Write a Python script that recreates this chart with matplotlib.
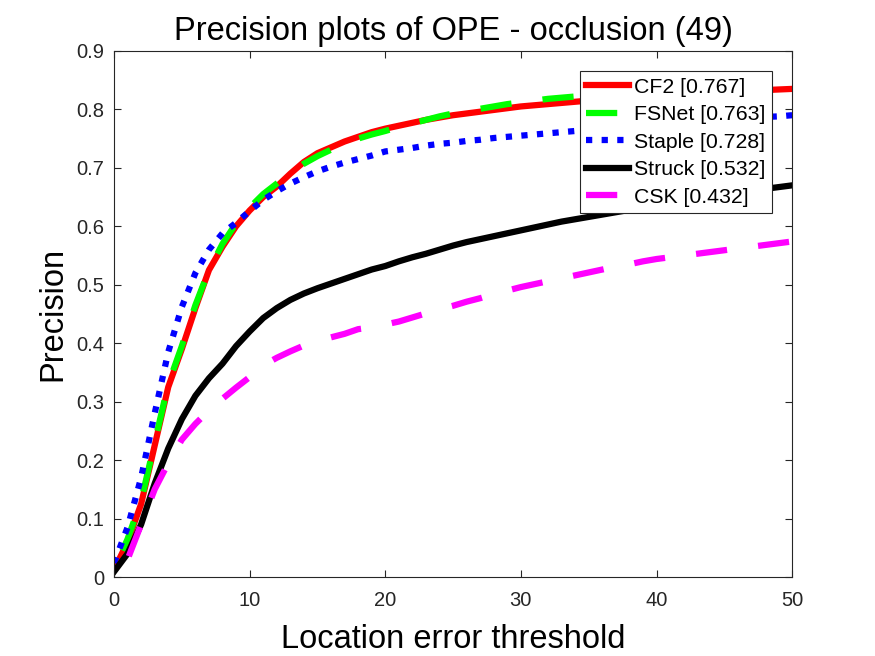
import numpy as np
import matplotlib
matplotlib.use('Agg')
import matplotlib.pyplot as plt

plt.rcParams['font.family'] = ['Liberation Sans', 'DejaVu Sans']

thresholds = np.arange(0, 51)

cf2 = [0.012, 0.06, 0.125, 0.225, 0.325, 0.39, 0.46, 0.525, 0.565, 0.6,
       0.627, 0.65, 0.668, 0.69, 0.71, 0.725, 0.735, 0.745, 0.753, 0.761,
       0.767, 0.772, 0.777, 0.782, 0.786, 0.79, 0.793, 0.796, 0.799, 0.802,
       0.805, 0.807, 0.809, 0.811, 0.813, 0.815, 0.817, 0.818, 0.82, 0.821,
       0.822, 0.824, 0.825, 0.826, 0.828, 0.829, 0.83, 0.831, 0.833, 0.834,
       0.835]
fsnet = [0.012, 0.065, 0.13, 0.23, 0.33, 0.395, 0.465, 0.525, 0.57, 0.605,
         0.632, 0.655, 0.673, 0.69, 0.707, 0.72, 0.731, 0.741, 0.75, 0.757,
         0.763, 0.77, 0.776, 0.782, 0.788, 0.793, 0.797, 0.801, 0.805, 0.809,
         0.812, 0.815, 0.818, 0.82, 0.822, 0.824, 0.825, 0.826, 0.827, 0.828,
         0.829, 0.83, 0.83, 0.831, 0.832, 0.832, 0.833, 0.834, 0.835, 0.835,
         0.836]
staple = [0.024, 0.085, 0.17, 0.28, 0.385, 0.462, 0.52, 0.56, 0.588, 0.606,
          0.626, 0.645, 0.66, 0.673, 0.684, 0.694, 0.702, 0.709, 0.715, 0.721,
          0.728, 0.731, 0.734, 0.738, 0.741, 0.743, 0.746, 0.748, 0.751, 0.753,
          0.755, 0.757, 0.759, 0.761, 0.763, 0.765, 0.767, 0.769, 0.77, 0.772,
          0.774, 0.775, 0.777, 0.779, 0.78, 0.782, 0.784, 0.785, 0.787, 0.788,
          0.79]
struck = [0.009, 0.04, 0.09, 0.16, 0.22, 0.27, 0.31, 0.34, 0.365, 0.395,
          0.42, 0.443, 0.46, 0.474, 0.485, 0.494, 0.502, 0.51, 0.518, 0.526,
          0.532, 0.54, 0.547, 0.553, 0.56, 0.567, 0.573, 0.578, 0.583, 0.588,
          0.593, 0.598, 0.603, 0.608, 0.612, 0.616, 0.62, 0.624, 0.628, 0.632,
          0.636, 0.64, 0.644, 0.648, 0.652, 0.655, 0.658, 0.661, 0.664, 0.667,
          0.67]
csk = [0.006, 0.03, 0.09, 0.15, 0.195, 0.235, 0.262, 0.285, 0.305, 0.324,
       0.342, 0.362, 0.375, 0.386, 0.396, 0.404, 0.41, 0.416, 0.424, 0.427,
       0.432, 0.437, 0.444, 0.451, 0.458, 0.464, 0.471, 0.477, 0.484, 0.49,
       0.496, 0.501, 0.506, 0.511, 0.516, 0.521, 0.526, 0.531, 0.535, 0.54,
       0.544, 0.547, 0.55, 0.553, 0.556, 0.559, 0.562, 0.565, 0.568, 0.571,
       0.574]

names = ['CF2', 'FSNet', 'Staple', 'Struck', 'CSK']
scores = [0.767, 0.763, 0.728, 0.532, 0.432]
colors = ['#ff0000', '#00ff00', '#0000ff', '#000000', '#ff00ff']
# dashed curves are drawn from the right end so the dash phase there matches
styles = ['-', (5, (5, 5)), (0, (1, 1.5)), '-', (9.5, (5, 5))]
leg_styles = ['-', (0, (5, 5)), (0, (1, 1.5)), '-', (0, (5, 5))]
reverse = [False, True, False, False, True]
series = [cf2, fsnet, staple, struck, csk]

fig = plt.figure(figsize=(8.75, 6.56), dpi=100)
ax = fig.add_axes([0.1303, 0.1204, 0.775, 0.802])

for vals, name, sc, col, ls, rev in zip(series, names, scores, colors, styles, reverse):
    x = thresholds[::-1] if rev else thresholds
    y = vals[::-1] if rev else vals
    ax.plot(x, y, color=col, linestyle=ls, linewidth=4.5,
            dash_capstyle='butt', label=f'{name} [{sc:.3f}]')

ax.set_xlim(0, 50)
ax.set_ylim(0, 0.9)
ax.set_xticks(np.arange(0, 51, 10))
ax.set_yticks(np.arange(0, 0.91, 0.1))
ax.set_yticklabels(['0'] + [f'{v:.1f}' for v in np.arange(0.1, 0.91, 0.1)])

grey = '#262626'
for s in ax.spines.values():
    s.set_color(grey)
    s.set_linewidth(0.8)
ax.tick_params(direction='in', length=5, width=0.8, top=True, right=True,
               colors=grey, labelsize=14.5)
ax.tick_params(axis='x', pad=10)
ax.tick_params(axis='y', pad=7)

ax.set_title('Precision plots of OPE - occlusion (49)', fontsize=23.5, pad=8)
ax.set_xlabel('Location error threshold', fontsize=23.5, labelpad=10)
ax.set_ylabel('Precision', fontsize=23.5, labelpad=6)

leg = ax.legend(loc='upper right', bbox_to_anchor=(0.970, 0.961),
                borderaxespad=0, fontsize=15.3, fancybox=False, framealpha=1,
                edgecolor=grey, handlelength=2.0, handletextpad=0.25,
                labelspacing=0.4, borderpad=0.3)
leg.get_frame().set_linewidth(0.8)
for h, ls in zip(leg.get_lines(), leg_styles):
    h.set_linestyle(ls)
    h.set_dash_capstyle('butt')

fig.savefig('out.png', dpi=100)
